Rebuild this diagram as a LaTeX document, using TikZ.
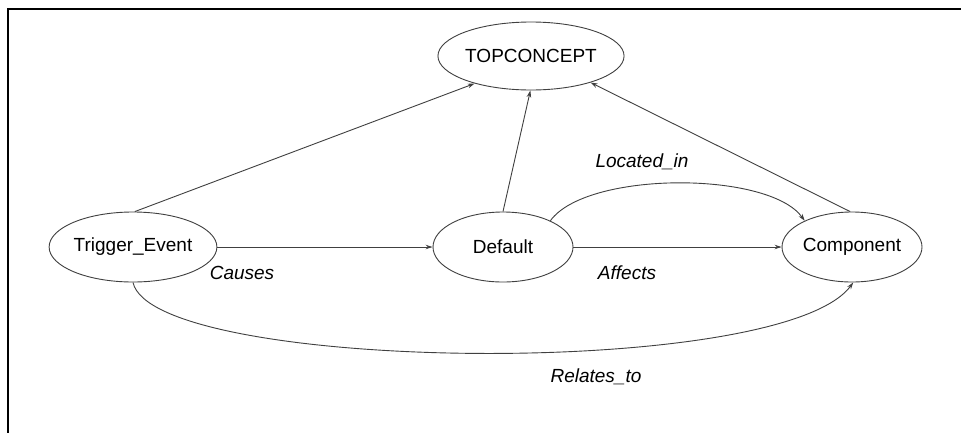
\documentclass[tikz,border=0pt]{standalone}
\usepackage{fontspec}
\setmainfont{Liberation Sans}
\usetikzlibrary{arrows.meta,shapes.geometric}
\begin{document}
\begin{tikzpicture}[x=1pt,y=-1pt,
  concept/.style={ellipse,draw=black!75,line width=0.9pt,minimum width=140pt,minimum height=70pt,inner sep=0pt,font=\fontsize{19}{22}\selectfont},
  rel/.style={draw=black!75,line width=0.9pt,-{Stealth[length=7pt,width=4.5pt]}},
  lbl/.style={font=\fontsize{19}{22}\selectfont\itshape}]
\clip (0,0) rectangle (961,432);
\fill[white] (0,0) rectangle (961,432);
\draw[line width=2.2pt] (8.3,450) -- (8.3,9) -- (980,9);

\node[concept,minimum width=148pt,minimum height=68pt] (tc) at (531,56) {TOPCONCEPT};
\node[concept] (te) at (133,247) {Trigger\_Event};
\node[concept] (def) at (503,247) {Default};
\node[concept] (comp) at (852,247) {Component};

\draw[rel] (te.87) -- (tc.206);
\draw[rel] (def.90) -- (tc.-91);
\draw[rel] (comp.93) -- (tc.-24);
\draw[rel] (te.east) -- (def.west);
\draw[rel] (def.east) -- (comp.west);
\draw[rel] (def.29) .. controls +(36,-50) and +(-36,-50) .. (comp.151);
\draw[rel] (te.-90) .. controls +(20,90) and +(-72,98) .. (comp.-88);

\node[lbl] (lcauses) at (242,273) {Causes};
\node[lbl] (laffects) at (627,273) {Affects};
\node[lbl] (llocated) at (642,162) {Located\_in};
\node[lbl] (lrelates) at (596,377) {Relates\_to};
\end{tikzpicture}
\end{document}
